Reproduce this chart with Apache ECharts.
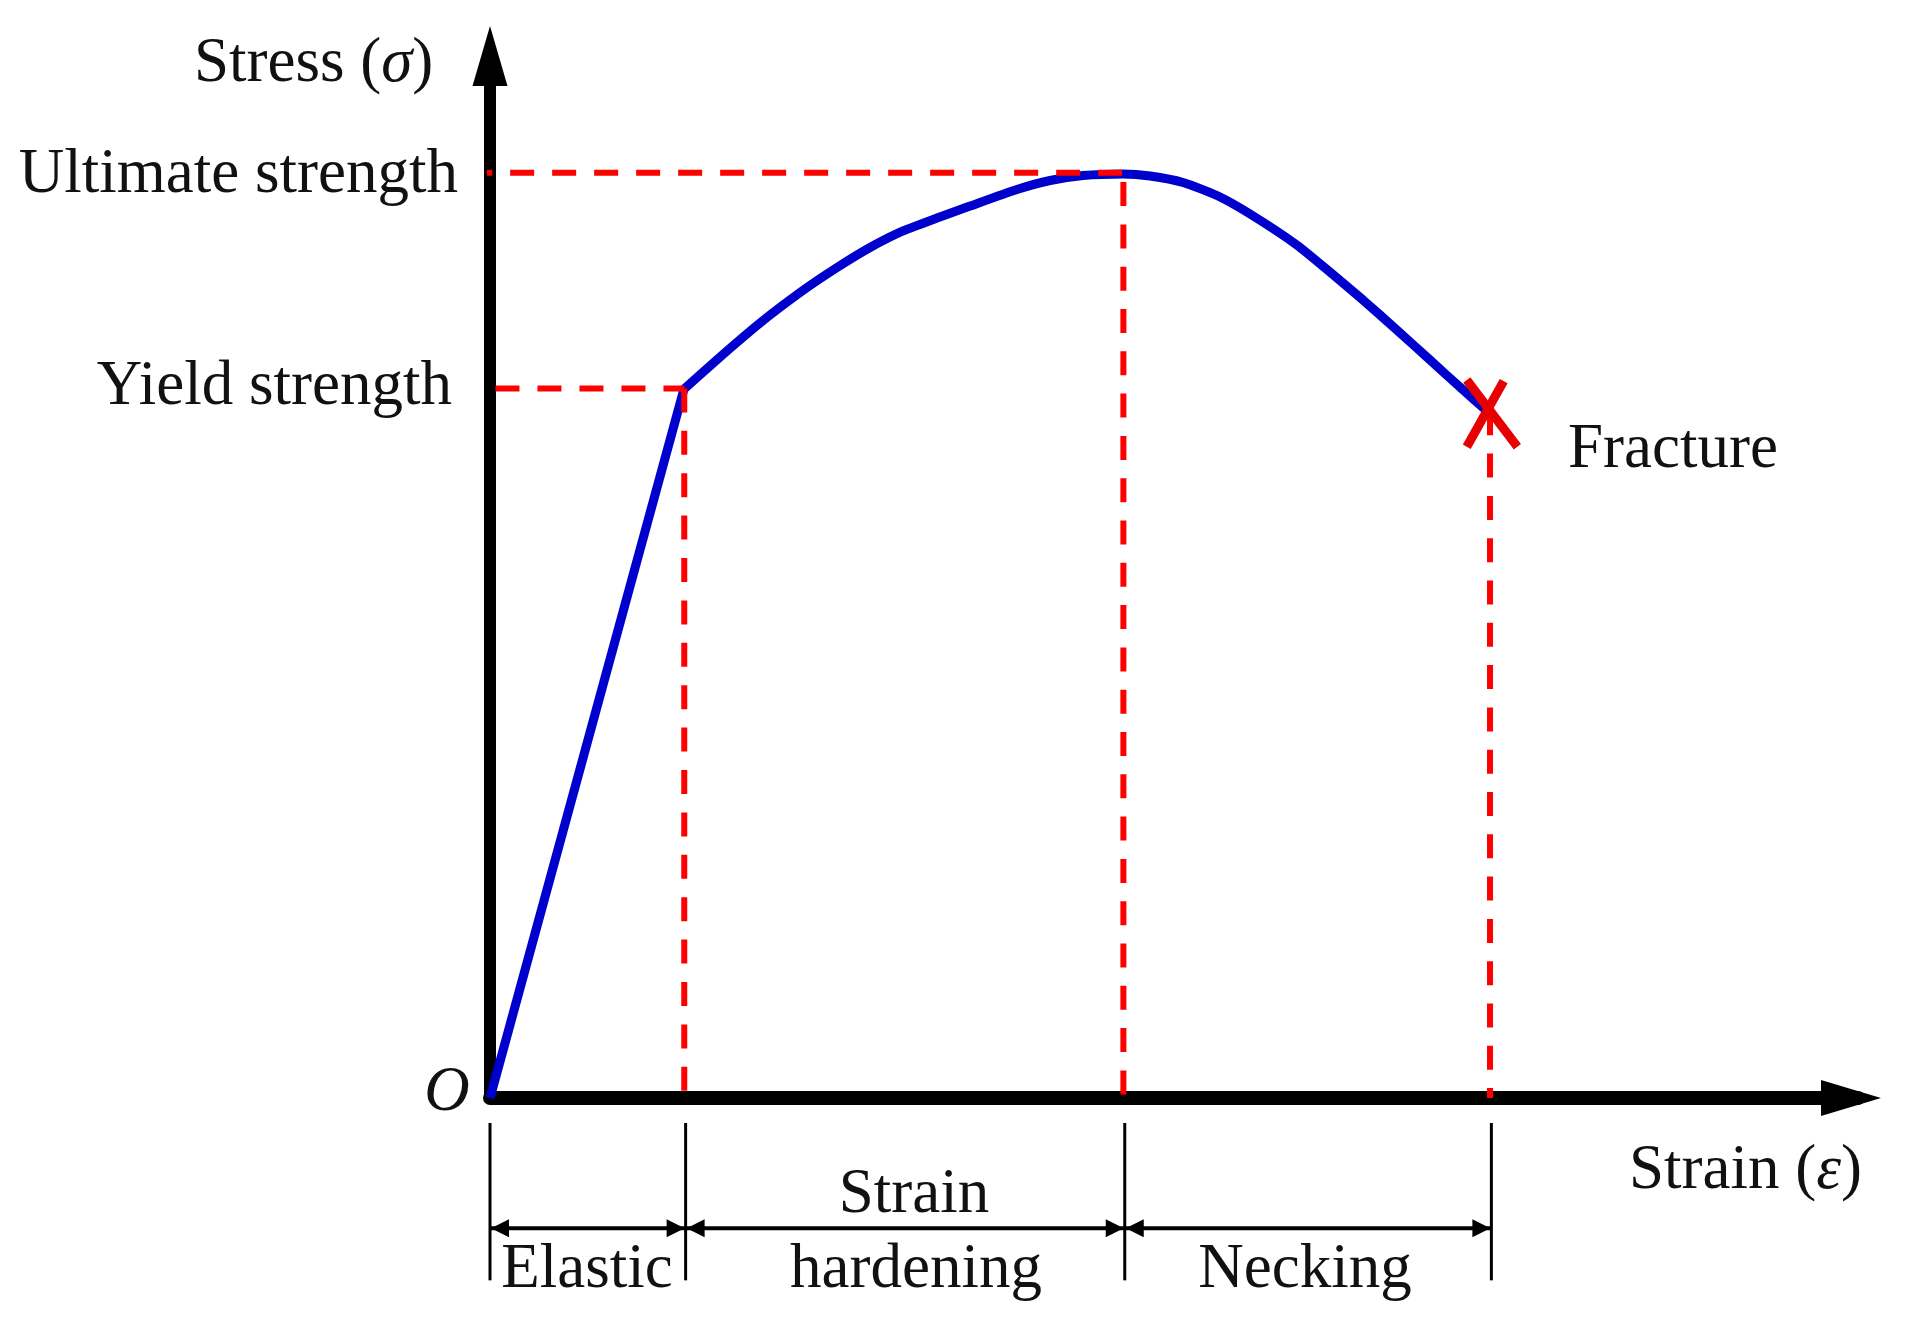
<!DOCTYPE html>
<html>
<head>
<meta charset="utf-8">
<title>Stress strain curve</title>
<style>
html,body{margin:0;padding:0;background:#fff;}
#main{width:1913px;height:1344px;}
</style>
<script src="https://cdn.jsdelivr.net/npm/echarts@6/dist/echarts.min.js"></script>
</head>
<body>
<div id="main"></div>
<script>
/* curve, axes are 0-10 with no units */
var elasticStrain = [0, 1.418];
var elasticStress = [0, 6.804];
var hardeningStrain = [1.418, 1.681, 1.974, 2.288, 2.537, 2.778, 3.019, 3.268, 3.509, 3.852, 4.094, 4.335,
    4.627, 4.825, 5.066, 5.314, 5.556, 5.899, 6.140, 6.382, 6.630, 6.871, 7.113, 7.288];
var hardeningStress = [6.804, 7.111, 7.438, 7.750, 7.970, 8.162, 8.321, 8.445, 8.560, 8.719, 8.805, 8.853,
    8.868, 8.848, 8.786, 8.661, 8.484, 8.186, 7.927, 7.658, 7.370, 7.083, 6.795, 6.593];

/* yield, ultimate, fracture */
var keyStrain = [1.42, 4.63, 7.31];
var keyStress = [6.81, 8.88, 6.59];

/* the red cross at fracture */
var crossA = [[7.14, 6.89], [7.51, 6.25]];
var crossB = [[7.41, 6.88], [7.14, 6.25]];

/* brackets under the x axis */
var spanEdges = [0, 1.43, 4.64, 7.32];
var spanY = -1.25;
var tickTop = -0.24;
var tickBottom = -1.75;

var serif = '"Liberation Serif", serif';

function toPairs(xs, ys){
    return xs.map(function(x, i){ return [x, ys[i]]; });
}

function redDash(data, gap, offset){
    return {
        type: 'line',
        data: data,
        showSymbol: false,
        clip: false,
        silent: true,
        z: 4,
        lineStyle: {color: '#ff0000', width: 6, type: [24, gap], dashOffset: offset || 0}
    };
}

function thinBlack(data){
    return {
        type: 'line',
        data: data,
        showSymbol: false,
        clip: false,
        silent: true,
        z: 3,
        lineStyle: {color: '#000', width: 3}
    };
}

function spanArrow(from, to){
    return {
        type: 'line',
        clip: false,
        silent: true,
        z: 3,
        symbol: 'triangle',
        symbolSize: [18, 18],
        showAllSymbol: true,
        lineStyle: {color: '#000', width: 4},
        itemStyle: {color: '#000'},
        data: [
            {value: [from, spanY], symbolRotate: 90, symbolOffset: [10, 0]},
            {value: [to, spanY], symbolRotate: -90, symbolOffset: [-10, 0]}
        ]
    };
}

function label(text, x, y, align, extra){
    var style = {
        text: text,
        x: x,
        y: y,
        fill: '#111',
        fontFamily: serif,
        fontSize: 63,
        textAlign: align,
        textVerticalAlign: 'middle',
        rich: {i: {fontFamily: serif, fontSize: 63, fontStyle: 'italic', fill: '#111'}}
    };
    if(extra){ style.fontStyle = extra; }
    return {type: 'text', silent: true, style: style};
}

var series = [
    redDash([[-0.05, keyStress[1]], [keyStrain[1], keyStress[1]]], 18, 15),
    redDash([[0.04, keyStress[0]], [keyStrain[0], keyStress[0]]], 18),
    redDash([[keyStrain[0], keyStress[0]], [keyStrain[0], 0]], 18.4),
    redDash([[keyStrain[1], 8.79], [keyStrain[1], 0]], 18.3),
    redDash([[keyStrain[2], keyStress[2]], [keyStrain[2], 0]], 18.3),
    {
        type: 'line',
        data: toPairs(elasticStrain, elasticStress),
        showSymbol: false,
        silent: true,
        z: 3,
        lineStyle: {color: '#0000cc', width: 9}
    },
    {
        type: 'line',
        data: toPairs(hardeningStrain, hardeningStress),
        smooth: 0.2,
        showSymbol: false,
        silent: true,
        z: 3,
        lineStyle: {color: '#0000cc', width: 9}
    },
    {
        type: 'line', data: crossA, showSymbol: false, silent: true, z: 5,
        lineStyle: {color: '#e60000', width: 9}
    },
    {
        type: 'line', data: crossB, showSymbol: false, silent: true, z: 5,
        lineStyle: {color: '#e60000', width: 9}
    }
];

spanEdges.forEach(function(x, i){
    series.push(thinBlack([[x, tickTop], [x, tickBottom]]));
    if(i > 0){
        series.push(spanArrow(spanEdges[i - 1], x));
    }
});

var option = {
    animation: false,
    backgroundColor: '#fff',
    grid: {left: 490, right: 55, top: 56, bottom: 246},
    xAxis: {
        type: 'value',
        min: 0,
        max: 10,
        splitLine: {show: false},
        axisTick: {show: false},
        axisLabel: {show: false},
        axisLine: {
            show: true,
            onZero: false,
            symbol: ['none', 'triangle'],
            symbolSize: [36, 60],
            symbolOffset: [0, -7],
            lineStyle: {color: '#000', width: 14}
        }
    },
    yAxis: {
        type: 'value',
        min: 0,
        max: 10,
        splitLine: {show: false},
        axisTick: {show: false},
        axisLabel: {show: false},
        axisLine: {
            show: true,
            onZero: false,
            symbol: ['none', 'triangle'],
            symbolSize: [35, 60],
            lineStyle: {color: '#000', width: 12}
        }
    },
    series: series,
    graphic: [
        label('Stress ({i|σ})', 194, 64, 'left'),
        label('Ultimate strength', 458, 175, 'right'),
        label('Yield strength', 452, 387, 'right'),
        label('Fracture', 1568, 450, 'left'),
        label('O', 447, 1093, 'center', 'italic'),
        label('Strain ({i|ε})', 1629, 1171, 'left'),
        label('Strain', 914, 1195, 'center'),
        label('Elastic', 587, 1270, 'center'),
        label('hardening', 916, 1270, 'center'),
        label('Necking', 1305, 1270, 'center')
    ]
};

var chart = echarts.init(document.getElementById('main'));
chart.setOption(option);
</script>
</body>
</html>
